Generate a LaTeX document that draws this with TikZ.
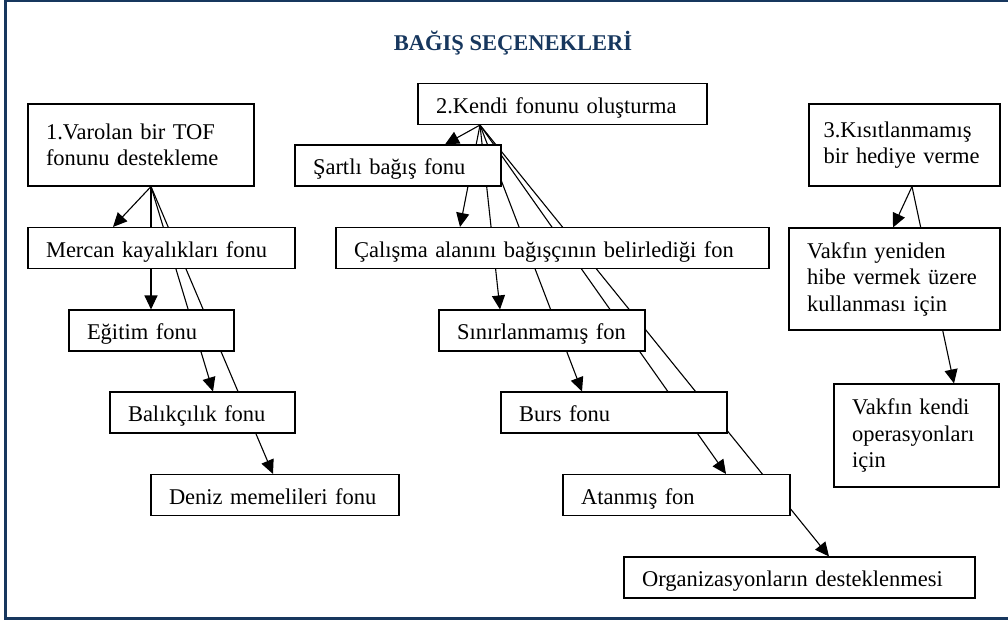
\documentclass[tikz,border=0pt]{standalone}
\usepackage{fontspec}
\setmainfont{Liberation Serif}
\usetikzlibrary{arrows.meta,backgrounds}
\definecolor{frameblue}{RGB}{23,55,94}

\begin{document}
\begin{tikzpicture}[x=1pt, y=-1pt,
        fonml/.style={rectangle, draw=black, fill=white, line width=1.1pt, align=left, inner xsep=18pt, inner ysep=0pt, minimum height=41pt, font={\fontsize{22.5}{26.5}\selectfont}},
        fon/.style={fonml, text height=19pt, text depth=1pt},
        title/.style={font={\fontsize{22.5}{26.5}\selectfont\bfseries}, text=frameblue},
        arrow/.style={-{Triangle[length=14pt,width=13pt]}, line width=1.1pt}
    ]
        \useasboundingbox (0,0) rectangle (1008,624);
        \draw[frameblue, line width=3pt] (5,0) rectangle (1016,618);

        \node[title] (ttl) at (513, 43) {BAĞIŞ SEÇENEKLERİ};

        % 1. mevcut fon
        \node[fonml, text width=190pt, minimum height=82pt] (v1) at (141, 145) {1.Varolan bir TOF\\fonunu destekleme};
        \node[fon, text width=231pt] (mer) at (161.5, 248) {Mercan kayalıkları fonu};
        \node[fon, text width=129pt] (egt) at (151.5, 330.5) {Eğitim fonu};
        \node[fon, text width=149pt] (bal) at (202.5, 412.5) {Balıkçılık fonu};
        \node[fon, text width=212pt] (den) at (275, 495) {Deniz memelileri fonu};

        % 2. kendi fonu
        \node[fon, text width=253pt] (ken) at (562.5, 104) {2.Kendi fonunu oluşturma};
        \node[fon, text width=170pt] (sar) at (398, 165.5) {Şartlı bağış fonu};
        \node[fon, text width=397pt] (cal) at (552.5, 248) {Çalışma alanını bağışçının belirlediği fon};
        \node[fon, text width=170pt] (sin) at (542, 330.5) {Sınırlanmamış fon};
        \node[fon, text width=190pt] (bur) at (614, 412.5) {Burs fonu};
        \node[fon, text width=191pt] (ata) at (676.5, 495) {Atanmış fon};
        \node[fon, text width=315pt] (org) at (799.5, 577.5) {Organizasyonların desteklenmesi};

        % 3. kisitsiz hediye
        \node[fonml, text width=162pt, inner xsep=14.5pt, minimum height=82pt] (kis) at (904.5, 145) {3.Kısıtlanmamış\\bir hediye verme};
        \node[fonml, text width=175pt, minimum height=102pt] (vyn) at (894.5, 279) {Vakfın yeniden\\hibe vermek üzere\\kullanması için};
        \node[fonml, text width=129pt, minimum height=103pt] (vkn) at (916.5, 435.5) {Vakfın kendi\\operasyonları\\için};

        \begin{pgfonlayer}{background}
            \draw[arrow] ([xshift=10pt]v1.south) -- ([xshift=-48.5pt]mer.north);
            \draw[arrow] ([xshift=10pt]v1.south) -- ([xshift=-0.5pt]egt.north);
            \draw[arrow] ([xshift=10pt]v1.south) -- ([xshift=10.5pt]bal.north);
            \draw[arrow] ([xshift=10pt]v1.south) -- ([xshift=-2pt]den.north);

            \draw[arrow] ([xshift=-82.5pt]ken.south) -- ([xshift=47pt]sar.north);
            \draw[arrow] ([xshift=-82.5pt]ken.south) -- ([xshift=-92.5pt]cal.north);
            \draw[arrow] ([xshift=-82.5pt]ken.south) -- ([xshift=-42pt]sin.north);
            \draw[arrow] ([xshift=-82.5pt]ken.south) -- ([xshift=-32pt]bur.north);
            \draw[arrow] ([xshift=-82.5pt]ken.south) -- ([xshift=49.5pt]ata.north);
            \draw[arrow] ([xshift=-82.5pt]ken.south) -- ([xshift=29.5pt]org.north);

            \draw[arrow] ([xshift=7.5pt]kis.south) -- ([xshift=-1.5pt]vyn.north);
            \draw[arrow] ([xshift=7.5pt]kis.south) -- ([xshift=37.5pt]vkn.north);
        \end{pgfonlayer}
    \end{tikzpicture}
\end{document}
